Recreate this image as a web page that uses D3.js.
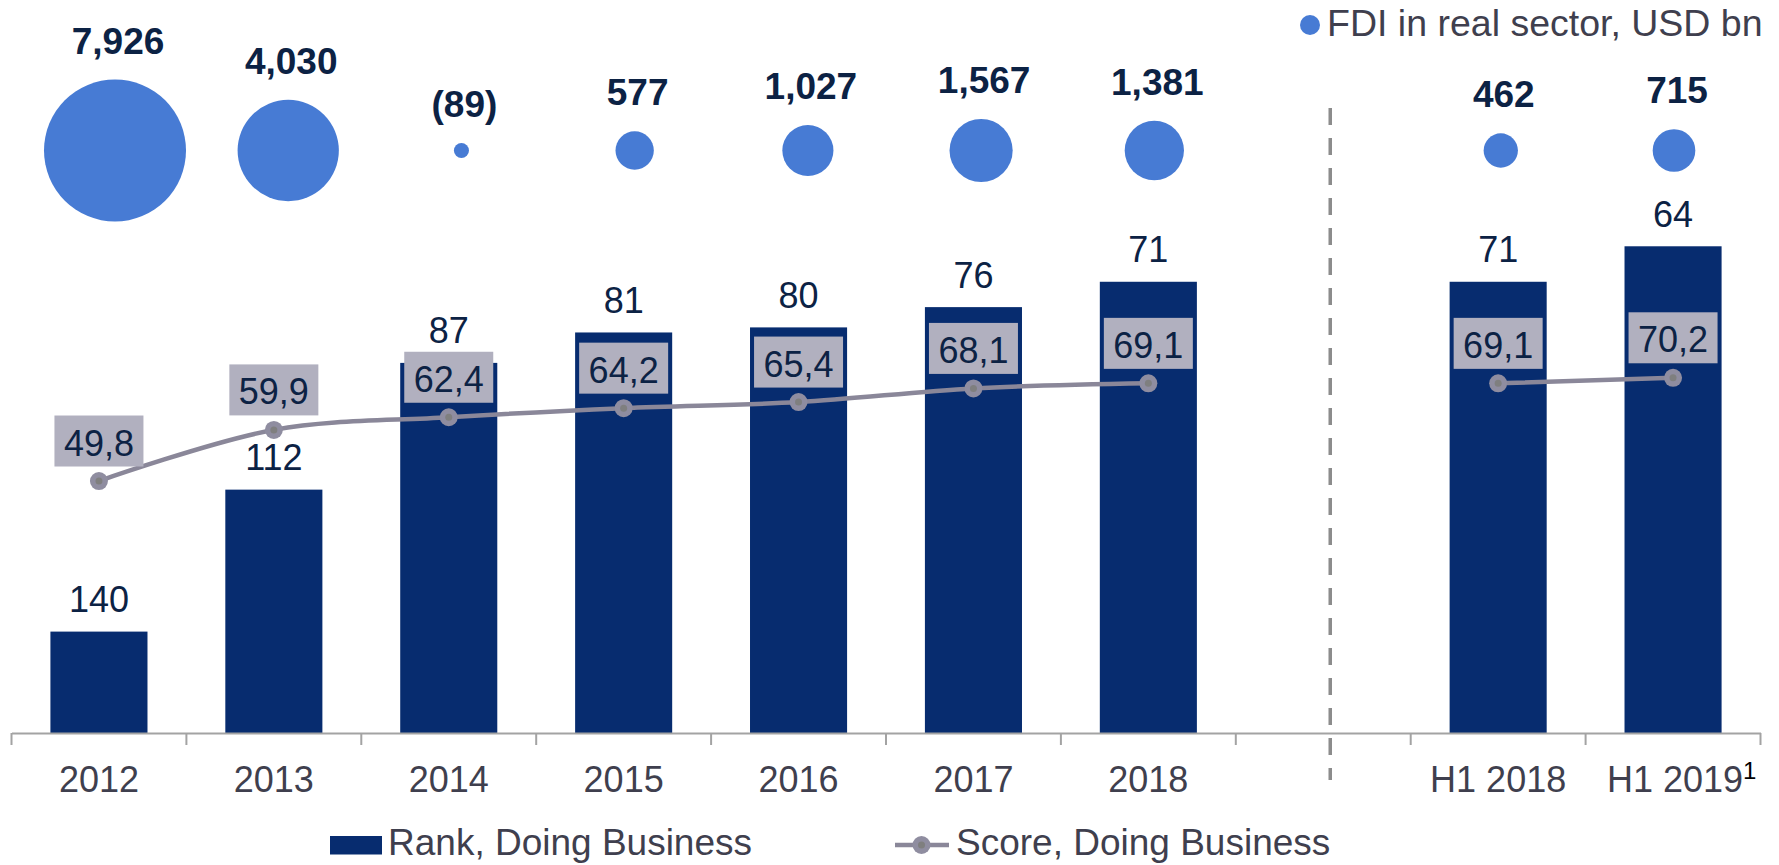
<!DOCTYPE html>
<html>
<head>
<meta charset="utf-8">
<script src="https://cdn.jsdelivr.net/npm/d3@7"></script>
<style>
	body { margin: 0; background: #fff; }
	svg { display: block; font-family: "Liberation Sans", Arial, sans-serif; }
</style>
</head>
<body>
<svg id="svg" width="1779" height="865"></svg>
<script>
// Doing Business rank / score with FDI bubbles on top
var categories = ['2012', '2013', '2014', '2015', '2016', '2017', '2018', '', 'H1 2018', 'H1 2019'];
var rankValues = [140, 112, 87, 81, 80, 76, 71, null, 71, 64];
var scoreValues = [49.8, 59.9, 62.4, 64.2, 65.4, 68.1, 69.1, null, 69.1, 70.2];
var fdiValues = [7926, 4030, -89, 577, 1027, 1567, 1381, null, 462, 715];
var footnotes = {'H1 2019': '1'};

var legendBars = 'Rank, Doing Business';
var legendLine = 'Score, Doing Business';
var legendBubbles = 'FDI in real sector, USD bn';


var DB = {};

DB.colors = {
	bar : '#072c6f',
	bubble : '#477bd4',
	line : '#8a8799',
	marker : '#8f8da0',
	markerDot : '#7f7f7f',
	box : '#b1b0bf',
	label : '#0c2244',
	axisText : '#3f3f4e',
	axis : '#a3a3a3',
	divider : '#8c8c8c'
};

DB.comma = d3.formatLocale({decimal : ',', thousands : ',', grouping : [3], currency : ['', '']});

DB.rows = categories.map(function(c, i){
	return {cat : c, rank : rankValues[i], score : scoreValues[i], fdi : fdiValues[i]};
});

DB.draw = function(){
	var svg = d3.select('#svg'),
		baseline = 733,
		bubbleY = 150.5;

	var x = d3.scaleBand()
		.domain(categories)
		.range([11.5, 1760.5])
		.padding(0);

	// the bubble row sits on its own, slightly narrower, spacing
	var xBubble = d3.scalePoint()
		.domain(categories)
		.range([115, 1674]);

	var bw = x.bandwidth(),
		barW = bw * 0.555,
		cx = function(d){ return x(d.cat) + bw / 2; };

	// rank is drawn upside down: a better rank gives a taller bar
	var yRank = d3.scaleLinear().domain([160, 0]).range([baseline, baseline - 160 * 5.07]);
	var yScore = d3.scaleLinear().domain([0, 160]).range([baseline, baseline - 160 * 5.06]);
	var r = d3.scaleSqrt().domain([0, 7926]).range([0, 71]);

	var rows = DB.rows;
	var ranked = rows.filter(function(d){ return d.rank != null; });
	var scored = rows.filter(function(d){ return d.score != null; });
	var bubbles = rows.filter(function(d){ return d.fdi != null; });

	// bars
	svg.append('g')
		.selectAll('rect')
		.data(ranked)
		.enter()
		.append('rect')
		.attr('x', function(d){ return cx(d) - barW / 2; })
		.attr('y', function(d){ return yRank(d.rank); })
		.attr('width', barW)
		.attr('height', function(d){ return baseline - yRank(d.rank); })
		.style('fill', DB.colors.bar);

	svg.append('g')
		.selectAll('text')
		.data(ranked)
		.enter()
		.append('text')
		.attr('x', cx)
		.attr('y', function(d){ return yRank(d.rank) - 19.5; })
		.attr('text-anchor', 'middle')
		.style('font-size', '36px')
		.style('fill', DB.colors.label)
		.text(function(d){ return d.rank; });

	// axis
	var axis = svg.append('g')
		.attr('transform', 'translate(0,' + baseline + ')')
		.call(d3.axisBottom(x).tickSize(0).tickSizeOuter(0));

	axis.select('.domain')
		.style('stroke', DB.colors.axis)
		.style('stroke-width', 2);

	axis.selectAll('.tick text')
		.attr('y', 58.5)
		.attr('dy', 0)
		.style('font-size', '36px')
		.style('font-family', '"Liberation Sans", Arial, sans-serif')
		.style('fill', DB.colors.axisText)
		.each(function(c){
			if (footnotes[c]){
				var before = this.getComputedTextLength();
				d3.select(this).append('tspan')
					.attr('dy', -13)
					.style('font-size', '24px')
					.style('fill', '#000')
					.text(footnotes[c]);
				// keep the main label centred, superscript hangs to the right
				d3.select(this).attr('x', (this.getComputedTextLength() - before) / 2 + 2);
			}
		});

	axis.selectAll('.edge')
		.data(categories.map(function(c){ return x(c); }).concat([x.range()[1]]))
		.enter()
		.append('line')
		.attr('x1', function(d){ return d; })
		.attr('x2', function(d){ return d; })
		.attr('y1', 0)
		.attr('y2', 12)
		.style('stroke', DB.colors.axis)
		.style('stroke-width', 2);

	// divider between full years and half years
	var gapX = x('') + bw * 0.54;
	svg.append('line')
		.attr('x1', gapX)
		.attr('x2', gapX)
		.attr('y1', 108)
		.attr('y2', 780)
		.style('stroke', DB.colors.divider)
		.style('stroke-width', 3.5)
		.style('stroke-dasharray', '17,13');

	// score line
	var line = d3.line()
		.defined(function(d){ return d.score != null; })
		.x(cx)
		.y(function(d){ return yScore(d.score); })
		.curve(d3.curveCatmullRom);

	svg.append('path')
		.datum(rows)
		.attr('d', line)
		.style('fill', 'none')
		.style('stroke', DB.colors.line)
		.style('stroke-width', 4.5);

	var marks = svg.append('g')
		.selectAll('g')
		.data(scored)
		.enter()
		.append('g')
		.attr('transform', function(d){ return 'translate(' + cx(d) + ',' + yScore(d.score) + ')'; });

	marks.append('circle').attr('r', 9).style('fill', DB.colors.marker);
	marks.append('circle').attr('r', 3.5).style('fill', DB.colors.markerDot);

	marks.append('rect')
		.attr('x', -44.5)
		.attr('y', -65.5)
		.attr('width', 89)
		.attr('height', 51)
		.style('fill', DB.colors.box);

	marks.append('text')
		.attr('y', -25.5)
		.attr('text-anchor', 'middle')
		.style('font-size', '36px')
		.style('fill', DB.colors.label)
		.text(function(d){ return DB.comma.format('.1f')(d.score); });

	// FDI bubbles
	svg.append('g')
		.selectAll('circle')
		.data(bubbles)
		.enter()
		.append('circle')
		.attr('cx', function(d){ return xBubble(d.cat); })
		.attr('cy', bubbleY)
		.attr('r', function(d){ return r(Math.abs(d.fdi)); })
		.style('fill', DB.colors.bubble);

	svg.append('g')
		.selectAll('text')
		.data(bubbles)
		.enter()
		.append('text')
		.attr('x', function(d){ return xBubble(d.cat) + 3; })
		.attr('y', function(d){ return bubbleY - r(Math.abs(d.fdi)) - 26; })
		.attr('text-anchor', 'middle')
		.style('font-size', '37px')
		.style('font-weight', 'bold')
		.style('fill', DB.colors.label)
		.text(function(d){
			var s = d3.format(',')(Math.abs(d.fdi));
			return d.fdi < 0 ? '(' + s + ')' : s;
		});

	// legends
	var top = svg.append('g');
	top.append('circle')
		.attr('cx', 1310)
		.attr('cy', 25)
		.attr('r', 10)
		.style('fill', DB.colors.bubble);
	top.append('text')
		.attr('x', 1327)
		.attr('y', 36)
		.style('font-size', '37.5px')
		.style('fill', DB.colors.axisText)
		.text(legendBubbles);

	var bottom = svg.append('g');
	bottom.append('rect')
		.attr('x', 330)
		.attr('y', 836)
		.attr('width', 52)
		.attr('height', 18.5)
		.style('fill', DB.colors.bar);
	bottom.append('text')
		.attr('x', 388)
		.attr('y', 855)
		.style('font-size', '37px')
		.style('fill', DB.colors.axisText)
		.text(legendBars);

	bottom.append('line')
		.attr('x1', 895)
		.attr('x2', 949)
		.attr('y1', 845)
		.attr('y2', 845)
		.style('stroke', DB.colors.line)
		.style('stroke-width', 4.5);
	bottom.append('circle').attr('cx', 921.5).attr('cy', 845).attr('r', 9).style('fill', DB.colors.marker);
	bottom.append('circle').attr('cx', 921.5).attr('cy', 845).attr('r', 3.5).style('fill', DB.colors.markerDot);
	bottom.append('text')
		.attr('x', 956)
		.attr('y', 855)
		.style('font-size', '37px')
		.style('fill', DB.colors.axisText)
		.text(legendLine);
};

DB.draw();
</script>
</body>
</html>
